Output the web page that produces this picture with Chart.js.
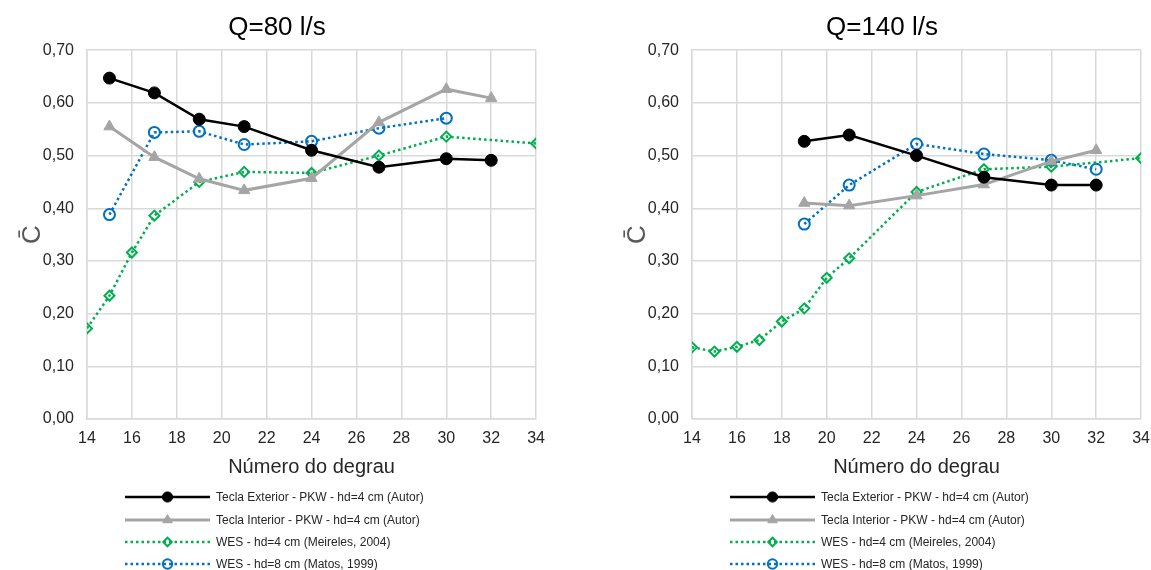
<!DOCTYPE html>
<html>
<head>
<meta charset="utf-8">
<script src="https://cdn.jsdelivr.net/npm/chart.js@4/dist/chart.umd.min.js"></script>
<style>
  html, body { margin: 0; padding: 0; background: #fff; }
  body { width: 1151px; height: 570px; position: relative; overflow: hidden; }
  .box { position: absolute; top: 0; width: 555px; height: 570px; }
  #box80 { left: 0; }
  #box140 { left: 605px; }
</style>
</head>
<body>
<div class="box" id="box80"><canvas id="chart80"></canvas></div>
<div class="box" id="box140"><canvas id="chart140"></canvas></div>
<script>
// Series labels
const seriesNames = [
  'Tecla Exterior - PKW - hd=4 cm (Autor)',
  'Tecla Interior - PKW - hd=4 cm (Autor)',
  'WES - hd=4 cm (Meireles, 2004)',
  'WES - hd=8 cm (Matos, 1999)'
];

// Q = 80 l/s
const steps80Pkw = [15, 17, 19, 21, 24, 27, 30, 32];
const ext80 = [0.647, 0.619, 0.569, 0.555, 0.510, 0.478, 0.494, 0.491];
const int80 = [0.555, 0.497, 0.456, 0.434, 0.457, 0.563, 0.626, 0.609];
const steps80Wes4 = [14, 15, 16, 17, 19, 21, 24, 27, 30, 34];
const wes4_80 = [0.172, 0.234, 0.316, 0.386, 0.450, 0.469, 0.467, 0.500, 0.536, 0.523];
const steps80Wes8 = [15, 17, 19, 21, 24, 27, 30];
const wes8_80 = [0.388, 0.544, 0.546, 0.521, 0.527, 0.552, 0.571];

// Q = 140 l/s
const steps140Pkw = [19, 21, 24, 27, 30, 32];
const ext140 = [0.527, 0.539, 0.500, 0.459, 0.444, 0.444];
const int140 = [0.410, 0.405, 0.424, 0.445, 0.489, 0.510];
const steps140Wes4 = [14, 15, 16, 17, 18, 19, 20, 21, 24, 27, 30, 34];
const wes4_140 = [0.136, 0.128, 0.137, 0.150, 0.185, 0.210, 0.268, 0.305, 0.431, 0.474, 0.479, 0.495];
const steps140Wes8 = [19, 21, 24, 27, 30, 32];
const wes8_140 = [0.370, 0.444, 0.522, 0.503, 0.491, 0.474];

// Axis ticks
const xTicks = [14, 16, 18, 20, 22, 24, 26, 28, 30, 32, 34];
const yTicks = [0, 0.1, 0.2, 0.3, 0.4, 0.5, 0.6, 0.7];

const FONT = 'Arial, "Liberation Sans", sans-serif';
const GRID = '#d9d9d9';

const pts = (xs, ys) => xs.map((x, i) => ({ x: x, y: ys[i] }));

const styles = [
  { borderColor: '#000000', backgroundColor: '#000000', borderWidth: 2.5, borderDash: [],
    pointStyle: 'circle', pointRadius: 6, pointBorderWidth: 1 },
  { borderColor: '#a5a5a5', backgroundColor: '#a5a5a5', borderWidth: 3, borderDash: [],
    pointStyle: 'triangle', pointRadius: 6.5, pointBorderWidth: 1 },
  { borderColor: '#00b050', backgroundColor: 'rgba(0,0,0,0)', borderWidth: 2.5, borderDash: [2.5, 3],
    pointStyle: 'rectRot', pointRadius: 5, pointBorderWidth: 2 },
  { borderColor: '#0070c0', backgroundColor: 'rgba(0,0,0,0)', borderWidth: 2.5, borderDash: [2.5, 3],
    pointStyle: 'circle', pointRadius: 5.5, pointBorderWidth: 2 }
];

// Vertical legend drawn under the plot
const legendPlugin = {
  id: 'columnLegend',
  afterDraw(chart) {
    const ctx = chart.ctx;
    const x0 = 125, x1 = 210, rowY = [497, 520, 542, 564];
    chart.data.datasets.forEach((ds, i) => {
      const y = rowY[i];
      ctx.save();
      ctx.strokeStyle = ds.borderColor;
      ctx.lineWidth = ds.borderWidth;
      ctx.setLineDash(ds.borderDash);
      ctx.beginPath();
      ctx.moveTo(x0, y);
      ctx.lineTo(x1, y);
      ctx.stroke();
      ctx.setLineDash([]);
      ctx.fillStyle = ds.backgroundColor;
      ctx.strokeStyle = ds.borderColor;
      ctx.lineWidth = ds.pointBorderWidth;
      Chart.helpers.drawPoint(ctx, {
        pointStyle: ds.pointStyle,
        radius: ds.pointRadius * 0.85,
        borderWidth: ds.pointBorderWidth,
        rotation: 0
      }, (x0 + x1) / 2, y);
      ctx.fillStyle = '#262626';
      ctx.font = '12px ' + FONT;
      ctx.textBaseline = 'middle';
      ctx.textAlign = 'left';
      ctx.fillText(ds.label, x1 + 6, y + 1);
      ctx.restore();
    });
  }
};

function makeChart(id, title, series) {
  const datasets = series.map((s, i) => Object.assign({
    label: seriesNames[i],
    data: s,
    fill: false,
    tension: 0,
    pointBackgroundColor: styles[i].backgroundColor,
    pointBorderColor: styles[i].borderColor
  }, styles[i]));

  return new Chart(document.getElementById(id), {
    type: 'line',
    data: { datasets: datasets },
    plugins: [legendPlugin],
    options: {
      responsive: true,
      maintainAspectRatio: false,
      animation: false,
      layout: { padding: { top: 0, right: 1, bottom: 81, left: 0 } },
      plugins: {
        legend: { display: false },
        tooltip: { enabled: false },
        title: {
          display: true,
          text: title,
          color: '#000',
          font: { family: FONT, size: 26, weight: 'normal' },
          padding: { top: 12, bottom: 7 }
        }
      },
      scales: {
        x: {
          type: 'linear',
          min: 14,
          max: 34,
          afterBuildTicks: axis => { axis.ticks = xTicks.map(v => ({ value: v })); },
          afterFit: axis => { axis.height = 70; },
          grid: { color: GRID, lineWidth: 1.5, drawTicks: false },
          border: { color: GRID, width: 1.5 },
          ticks: { color: '#262626', font: { family: FONT, size: 16 }, padding: 10, maxRotation: 0 },
          title: {
            display: true,
            text: 'Número do degrau',
            color: '#262626',
            font: { family: FONT, size: 20 },
            padding: { top: 0, bottom: 10 }
          }
        },
        y: {
          min: 0,
          max: 0.7,
          afterBuildTicks: axis => { axis.ticks = yTicks.map(v => ({ value: v })); },
          afterFit: axis => { axis.width = 87; },
          grid: { color: GRID, lineWidth: 1.5, drawTicks: false },
          border: { color: GRID, width: 1.5 },
          ticks: {
            color: '#262626',
            font: { family: FONT, size: 16 },
            padding: 13,
            callback: v => v.toFixed(2).replace('.', ',')
          },
          title: {
            display: true,
            text: 'C\u0304',
            color: '#595959',
            font: { family: FONT, size: 26 },
            padding: { top: 17, bottom: 0 }
          }
        }
      }
    }
  });
}

makeChart('chart80', 'Q=80 l/s', [
  pts(steps80Pkw, ext80),
  pts(steps80Pkw, int80),
  pts(steps80Wes4, wes4_80),
  pts(steps80Wes8, wes8_80)
]);

makeChart('chart140', 'Q=140 l/s', [
  pts(steps140Pkw, ext140),
  pts(steps140Pkw, int140),
  pts(steps140Wes4, wes4_140),
  pts(steps140Wes8, wes8_140)
]);
</script>
</body>
</html>
